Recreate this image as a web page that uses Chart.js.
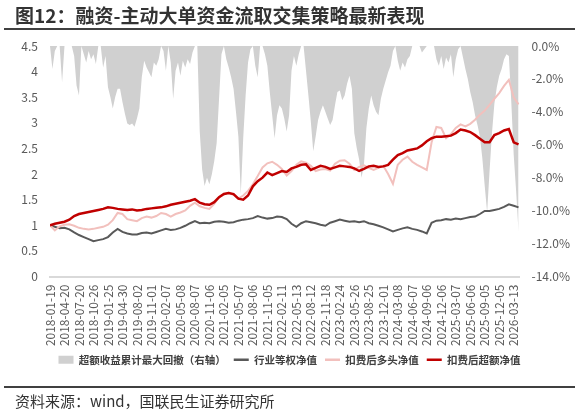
<!DOCTYPE html>
<html>
<head>
<meta charset="utf-8">
<script src="https://cdn.jsdelivr.net/npm/chart.js@4.4.1/dist/chart.umd.min.js"></script>
<style>
  body { margin: 0; width: 579px; height: 415px; position: relative; background: #fff; overflow: hidden;
         font-family: "Noto Sans CJK SC", "Noto Sans", sans-serif; }
  #chartBox { position: absolute; left: 0; top: 0; width: 579px; height: 415px; }
  #title { position: absolute; left: 15px; top: 1px; font-size: 19px; font-weight: bold; color: #333; white-space: nowrap; }
  #topLine { position: absolute; left: 4px; width: 571px; top: 28px; height: 2px; background: #404040; }
  #bottomLine { position: absolute; left: 4px; width: 571px; top: 386px; height: 2px; background: #404040; }
  #source { position: absolute; left: 15px; top: 390px; font-size: 15px; color: #333; white-space: nowrap; }
</style>
</head>
<body>
<div id="chartBox"><canvas id="strategyChart" width="579" height="415"></canvas></div>
<div id="title">图12：融资-主动大单资金流取交集策略最新表现</div>
<div id="topLine"></div>
<div id="bottomLine"></div>
<div id="source">资料来源：wind，国联民生证券研究所</div>
<script>
// quarterly tick labels, one per x unit
const tickLabels = [
    "2018-01-19", "2018-04-20", "2018-07-20", "2018-10-26", "2019-01-25", "2019-04-30",
    "2019-08-02", "2019-11-01", "2020-02-07", "2020-05-08", "2020-08-07", "2020-11-06",
    "2021-02-05", "2021-05-07", "2021-08-06", "2021-11-05", "2022-02-11", "2022-05-13",
    "2022-08-12", "2022-11-18", "2023-02-24", "2023-05-26", "2023-08-25", "2023-12-01",
    "2024-03-08", "2024-06-07", "2024-09-06", "2024-12-06", "2025-03-07", "2025-06-06",
    "2025-09-05", "2025-12-05", "2026-03-13"
];

const seriesNames = ["超额收益累计最大回撤（右轴）", "行业等权净值", "扣费后多头净值", "扣费后超额净值"];

// drawdown (%): one value every sixth of a quarter (about two weeks)
const drawdown = [
    0, -1.4, -0.3, 0, 0, -2.2, 0, 0, 0, 0,
    -0.6, -2.4, -3.0, 0, -0.5, -1.0, -0.3, -0.8, -0.5, -1.1,
    0, 0, -1.3, -0.6, -2.5, -3.1, -3.8, -3.1, -2.6, -2.6,
    -3.4, -4.1, -4.7, -4.8, -4.7, -4.9, -4.4, -3.8, -1.9, -0.9,
    -1.3, -1.6, -1.9, -1.0, -1.2, -0.8, 0, -0.3, -1.5, 0,
    -1.0, -3.2, -1.5, -1.0, -1.8, -0.9, -1.3, -0.8, -1.1, -0.4,
    0, 0, -5.2, -7.5, -8.5, -8.0, -8.4, -7.8, -7.0, -5.9,
    -3.2, -0.5, 0, -0.8, -1.3, -1.9, -2.6, -4.0, -5.5, -9.0,
    -5.6, -3.0, -1.0, -0.2, 0, -1.2, -1.9, 0, 0, -0.5,
    -1.2, -2.8, -4.2, -5.6, -4.2, -3.6, -3.8, -4.4, -5.2, -4.2,
    -1.5, -0.6, -1.2, -0.5, 0, 0, -1.5, -3.0, -4.6, -6.4,
    -5.5, -4.5, -4.0, -3.6, -4.0, -4.4, -4.8, -4.5, -3.6, -2.8,
    -2.7, -3.3, -3.0, -2.3, -1.8, -2.6, -5.3, -6.2, -6.9, -8.0,
    -7.2, -5.0, -3.8, -3.0, -3.6, -4.0, -4.2, -3.2, -2.6, -2.1,
    -1.6, -1.2, -0.3, 0, -0.9, -1.5, -1.0, -1.3, -0.8, -0.6,
    0, 0, 0, 0, -0.4, -0.2, 0, 0, 0, 0,
    -0.8, -1.2, -0.6, -1.4, -0.7, -1.0, -0.5, -1.9, -0.8, -0.2,
    0, -0.7, -1.4, -2.0, -2.8, -3.4, -4.2, -4.8, -5.5, -6.8,
    -8.5, -10.1, -7.6, -5.3, -3.5, -2.5, -1.8, -1.4, -0.8, -0.5,
    -0.6, -3.4, -6.6, -8.8, -11.3
];

// net values: one value every third of a quarter (about a month)
const industryNav = [
    1.00, 0.97, 0.94, 0.95, 0.92, 0.86, 0.81, 0.77, 0.73, 0.69,
    0.71, 0.73, 0.77, 0.86, 0.93, 0.87, 0.84, 0.82, 0.82, 0.85,
    0.86, 0.84, 0.87, 0.90, 0.93, 0.91, 0.92, 0.95, 0.99, 1.04,
    1.08, 1.04, 1.05, 1.04, 1.07, 1.08, 1.07, 1.05, 1.06, 1.09,
    1.11, 1.12, 1.14, 1.18, 1.15, 1.13, 1.14, 1.17, 1.16, 1.12,
    1.03, 0.97, 1.04, 1.08, 1.06, 1.04, 1.01, 0.99, 1.05, 1.08,
    1.11, 1.09, 1.07, 1.08, 1.06, 1.08, 1.04, 1.02, 0.99, 0.96,
    0.92, 0.88, 0.91, 0.94, 0.96, 0.93, 0.91, 0.88, 0.84, 1.05,
    1.09, 1.10, 1.12, 1.11, 1.13, 1.12, 1.14, 1.16, 1.17, 1.22,
    1.28, 1.28, 1.30, 1.32, 1.36, 1.41, 1.38, 1.35
];

const longNav = [
    1.00, 0.90, 0.98, 1.01, 1.02, 0.99, 0.95, 0.93, 0.92, 0.93,
    0.95, 0.97, 1.01, 1.10, 1.24, 1.22, 1.12, 1.10, 1.08, 1.14,
    1.17, 1.15, 1.18, 1.24, 1.22, 1.17, 1.22, 1.25, 1.29, 1.38,
    1.44, 1.37, 1.34, 1.32, 1.42, 1.55, 1.60, 1.64, 1.59, 1.52,
    1.58, 1.67, 1.80, 1.96, 2.13, 2.21, 2.24, 2.18, 2.10, 1.97,
    2.06, 2.18, 2.25, 2.22, 2.16, 2.06, 2.09, 2.10, 2.07, 2.20,
    2.26, 2.27, 2.20, 2.08, 2.14, 2.17, 2.12, 2.08, 2.12, 2.16,
    2.00, 1.81, 2.18, 2.28, 2.34, 2.24, 2.18, 2.13, 2.08, 2.62,
    2.92, 2.90, 2.70, 2.78, 2.90, 2.97, 2.93, 2.98, 3.06, 3.16,
    3.24, 3.35, 3.47, 3.58, 3.72, 3.84, 3.50, 3.36
];

const excessNav = [
    1.00, 1.03, 1.05, 1.07, 1.11, 1.18, 1.22, 1.24, 1.26, 1.28,
    1.30, 1.32, 1.35, 1.34, 1.32, 1.31, 1.30, 1.31, 1.29, 1.30,
    1.32, 1.33, 1.34, 1.35, 1.37, 1.40, 1.42, 1.44, 1.46, 1.48,
    1.51, 1.44, 1.41, 1.40, 1.45, 1.55, 1.61, 1.63, 1.61, 1.52,
    1.50, 1.58, 1.76, 1.86, 1.93, 2.03, 1.98, 2.02, 2.06, 2.04,
    2.11, 2.14, 2.18, 2.19, 2.08, 2.12, 2.16, 2.14, 2.10, 2.13,
    2.16, 2.15, 2.14, 2.11, 2.06, 2.10, 2.15, 2.16, 2.14, 2.15,
    2.18, 2.28, 2.37, 2.41, 2.46, 2.48, 2.50, 2.56, 2.64, 2.70,
    2.73, 2.73, 2.74, 2.75, 2.80, 2.87, 2.85, 2.82, 2.76, 2.69,
    2.62, 2.62, 2.76, 2.80, 2.85, 2.88, 2.62, 2.58
];

// x is measured in quarters from the first tick
const toPoints = (values, perQuarter) => values.map((v, i) => ({ x: i / perQuarter, y: v }));

const canvas = document.getElementById("strategyChart");

new Chart(canvas, {

    type: "line",

    data: {

        datasets: [
            {
                label: seriesNames[0],
                data: toPoints(drawdown, 6),
                yAxisID: "y1",
                fill: "origin",
                backgroundColor: "#d0d0d0",
                borderColor: "#d0d0d0",
                borderWidth: 0,
                pointRadius: 0,
                order: 4
            },
            {
                label: seriesNames[1],
                data: toPoints(industryNav, 3),
                yAxisID: "y",
                borderColor: "#595959",
                borderWidth: 2,
                pointRadius: 0,
                order: 3
            },
            {
                label: seriesNames[2],
                data: toPoints(longNav, 3),
                yAxisID: "y",
                borderColor: "#f2c0bd",
                borderWidth: 2,
                pointRadius: 0,
                order: 2
            },
            {
                label: seriesNames[3],
                data: toPoints(excessNav, 3),
                yAxisID: "y",
                borderColor: "#c00000",
                borderWidth: 2.5,
                pointRadius: 0,
                order: 1
            }
        ]

    },

    options: {

        responsive: false,
        animation: false,

        layout: {
            padding: { top: 46, left: 0, right: 0, bottom: 40 }
        },

        plugins: {

            legend: {

                position: "bottom",

                labels: {

                    usePointStyle: true,
                    pointStyleWidth: 15,
                    boxHeight: 8,
                    padding: 8,
                    color: "#404040",
                    font: { family: "Noto Sans CJK SC", size: 10.5, weight: "bold" },

                    generateLabels(chart) {
                        return chart.data.datasets.map((ds, i) => ({
                            text: ds.label,
                            datasetIndex: i,
                            fillStyle: ds.borderColor,
                            strokeStyle: ds.borderColor,
                            lineWidth: ds.fill ? 0 : 2.5,
                            pointStyle: ds.fill ? "rect" : "line",
                            fontColor: "#404040",
                            hidden: false
                        }));
                    }

                }

            },

            tooltip: { enabled: false }

        },

        scales: {

            x: {

                type: "linear",
                min: 0,
                max: 32.4,

                grid: { display: false, drawTicks: false },

                border: { display: true, color: "#d9d9d9", width: 2 },

                ticks: {
                    autoSkip: false,
                    minRotation: 90,
                    maxRotation: 90,
                    padding: 8,
                    color: "#595959",
                    font: { family: "Noto Sans CJK SC", size: 12 },
                    callback(value) {
                        return tickLabels[value];
                    }
                },

                afterBuildTicks(scale) {
                    scale.ticks = tickLabels.map((_, i) => ({ value: i }));
                },

                afterFit(scale) { scale.height = 70; }

            },

            y: {

                position: "left",
                min: 0,
                max: 4.5,

                grid: { display: false, drawTicks: false },
                border: { display: false },

                ticks: {
                    stepSize: 0.5,
                    padding: 12,
                    color: "#595959",
                    font: { family: "Noto Sans CJK SC", size: 12 },
                    callback(value) {
                        return String(value);
                    }
                },

                afterFit(scale) { scale.width = 50; }

            },

            y1: {

                position: "right",
                min: -14,
                max: 0,

                grid: { display: false, drawTicks: false },
                border: { display: false },

                ticks: {
                    stepSize: 2,
                    padding: 12,
                    color: "#595959",
                    font: { family: "Noto Sans CJK SC", size: 12 },
                    callback(value) {
                        return value.toFixed(1) + "%";
                    }
                },

                afterFit(scale) { scale.width = 59.5; }

            }

        }

    }

});
</script>
</body>
</html>
